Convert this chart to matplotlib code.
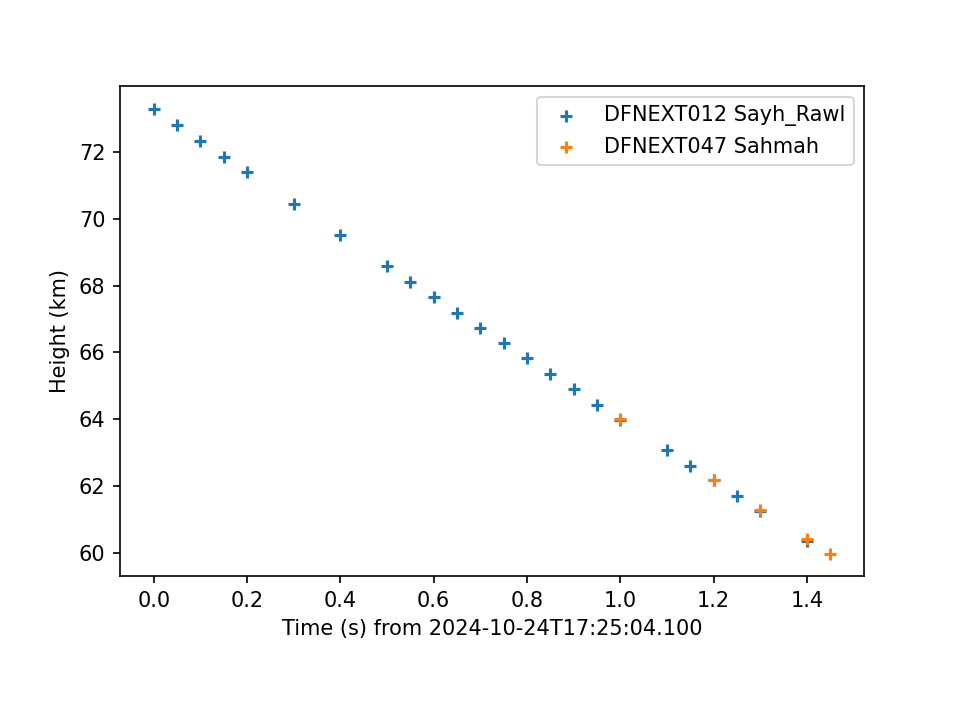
import matplotlib
matplotlib.use("Agg")
import matplotlib.pyplot as plt

# datos
t_sayh = [0.0, 0.05, 0.1, 0.15, 0.2, 0.3, 0.4, 0.5, 0.55, 0.6, 0.65, 0.7, 0.75,
          0.8, 0.85, 0.9, 0.95, 1.0, 1.1, 1.15, 1.2, 1.25, 1.3, 1.4]
h_sayh = [73.29, 72.81, 72.33, 71.85, 71.40, 70.44, 69.51, 68.59, 68.11, 67.66,
          67.18, 66.73, 66.28, 65.83, 65.35, 64.90, 64.43, 63.98, 63.08, 62.60,
          62.18, 61.70, 61.25, 60.35]

t_sahmah = [1.0, 1.2, 1.3, 1.4, 1.45]
h_sahmah = [64.0, 62.2, 61.28, 60.43, 59.98]

fig = plt.figure(figsize=(6.4, 4.8), dpi=150)
plt.scatter(t_sayh, h_sayh, marker="+", label="DFNEXT012 Sayh_Rawl")
plt.scatter(t_sahmah, h_sahmah, marker="+", label="DFNEXT047 Sahmah")
plt.xlabel("Time (s) from 2024-10-24T17:25:04.100")
plt.ylabel("Height (km)")
plt.legend()
plt.subplots_adjust(bottom=0.2)
plt.savefig("out.png")
